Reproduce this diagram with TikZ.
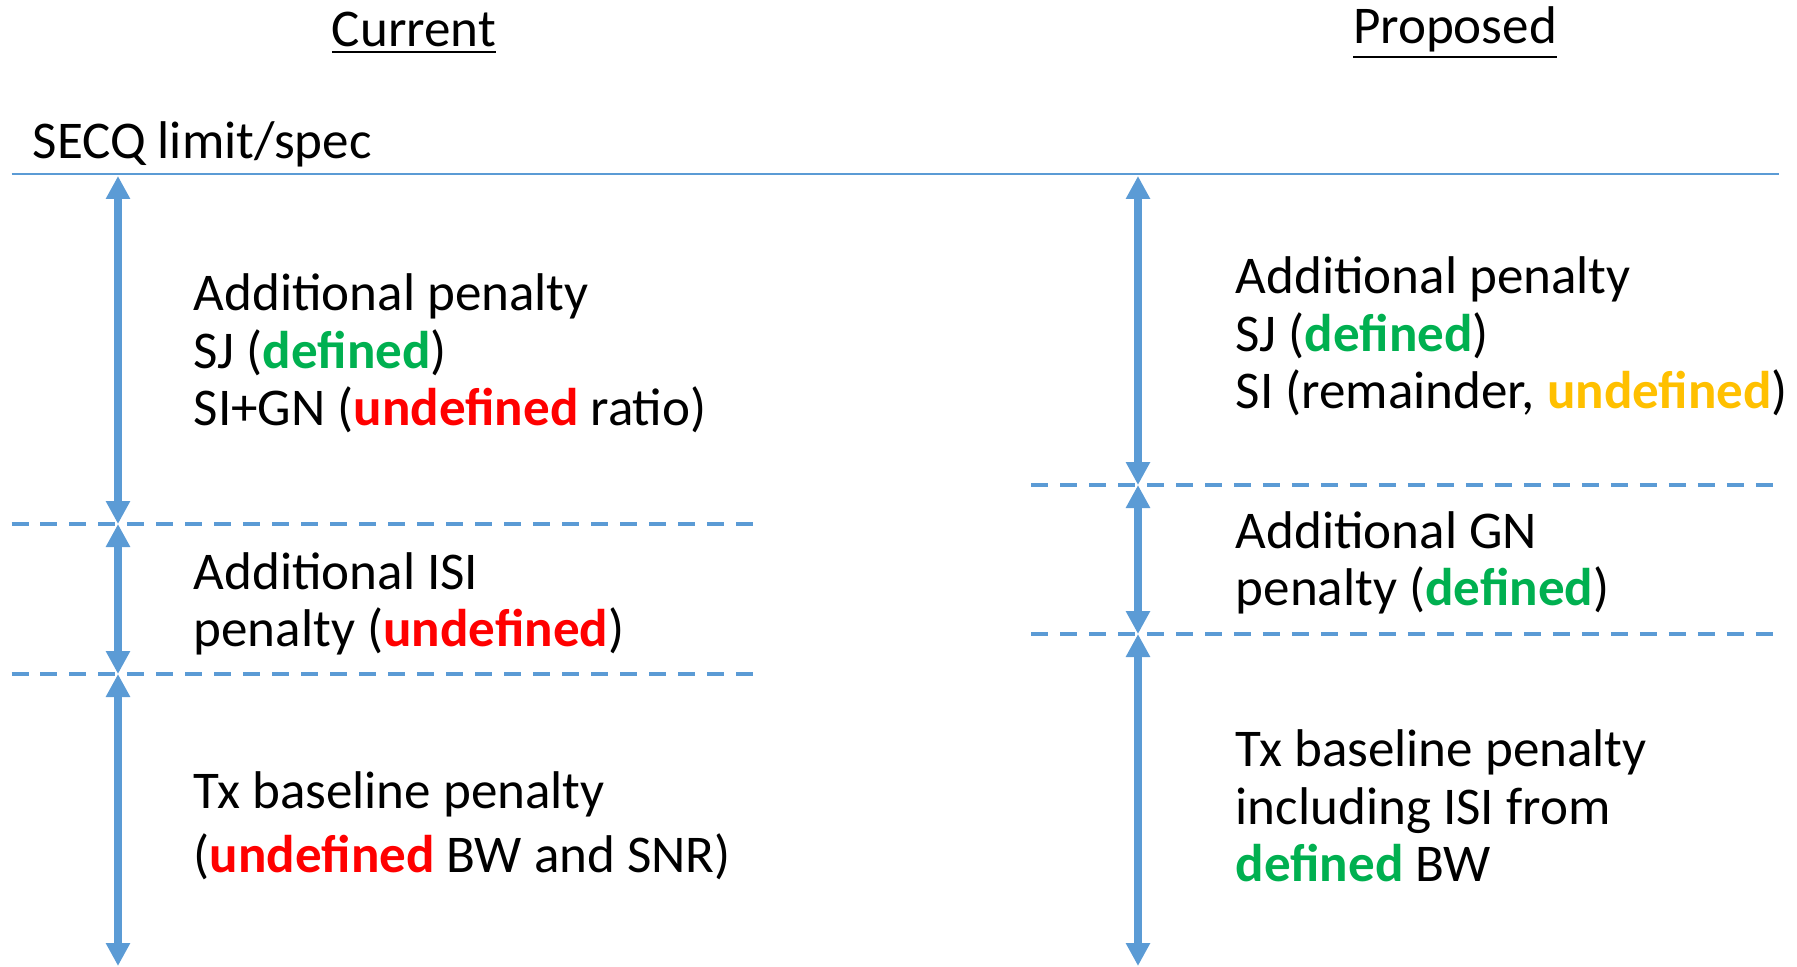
\documentclass[tikz,border=0pt]{standalone}
\usepackage{fontspec}
\setmainfont{Carlito}
\usetikzlibrary{arrows.meta}
\definecolor{lineblue}{HTML}{5B9BD5}
\definecolor{okgreen}{HTML}{00B050}
\definecolor{badred}{HTML}{FF0000}
\definecolor{warnorange}{HTML}{FFC000}
\newcommand{\good}[1]{\textbf{\textcolor{okgreen}{#1}}}
\newcommand{\bad}[1]{\textbf{\textcolor{badred}{#1}}}
\newcommand{\open}[1]{\textbf{\textcolor{warnorange}{#1}}}
\begin{document}
\begin{tikzpicture}[font=\fontsize{15.1}{16.3}\selectfont,
	penalty/.style={anchor=west,align=left,inner sep=0pt},
	span/.style={line width=2pt,lineblue,{Triangle[width=0.23cm,length=0.23cm]}-{Triangle[width=0.23cm,length=0.23cm]}},
	limit/.style={line width=0.7pt,lineblue},
	split/.style={line width=1.4pt,lineblue,dash pattern=on 0.17cm off 0.12cm}]
	\useasboundingbox (0,0) rectangle (17.97,-9.67) ;
	% titles
	\node (Current) at (4.14,-0.33) {\underline{Current}} ;
	\node (Proposed) at (14.55,-0.33) {\underline{Proposed}} ;
	\node[anchor=west,inner sep=0pt] (SECQ) at (0.32,-1.44) {SECQ limit/spec} ;
	% levels
	\coordinate (TopW) at (0.115,-1.74) ;
	\coordinate (TopE) at (17.79,-1.74) ;
	\coordinate (CurAW) at (0.115,-5.24) ;
	\coordinate (CurAE) at (7.56,-5.24) ;
	\coordinate (CurBW) at (0.115,-6.74) ;
	\coordinate (CurBE) at (7.56,-6.74) ;
	\coordinate (ProAW) at (10.31,-4.85) ;
	\coordinate (ProAE) at (17.79,-4.85) ;
	\coordinate (ProBW) at (10.31,-6.34) ;
	\coordinate (ProBE) at (17.79,-6.34) ;
	\draw[limit] (TopW) -- (TopE) ;
	\draw[split] (CurAW) -- (CurAE) ;
	\draw[split] (CurBW) -- (CurBE) ;
	\draw[split] (ProAW) -- (ProAE) ;
	\draw[split] (ProBW) -- (ProBE) ;
	% arrows, current
	\coordinate (C0) at (1.18,-1.76) ;
	\coordinate (C1) at (1.18,-5.24) ;
	\coordinate (C2) at (1.18,-6.74) ;
	\coordinate (C3) at (1.18,-9.66) ;
	\draw[span] (C0) -- (C1) ;
	\draw[span] (C1) -- (C2) ;
	\draw[span] (C2) -- (C3) ;
	% arrows, proposed
	\coordinate (P0) at (11.38,-1.76) ;
	\coordinate (P1) at (11.38,-4.85) ;
	\coordinate (P2) at (11.38,-6.34) ;
	\coordinate (P3) at (11.38,-9.66) ;
	\draw[span] (P0) -- (P1) ;
	\draw[span] (P1) -- (P2) ;
	\draw[span] (P2) -- (P3) ;
	% texts
	\node[penalty] (CurAdd) at (1.93,-3.535) {Additional penalty\\SJ (\good{defined})\\SI+GN (\bad{undefined} ratio)} ;
	\node[penalty] (CurISI) at (1.93,-6.035) {Additional ISI\\penalty (\bad{undefined})} ;
	\node[penalty] (CurTx) at (1.93,-8.255) {Tx baseline penalty\\[0.07cm](\bad{undefined} BW and SNR)} ;
	\node[penalty] (ProAdd) at (12.35,-3.365) {Additional penalty\\SJ (\good{defined})\\SI (remainder, \open{undefined})} ;
	\node[penalty] (ProGN) at (12.35,-5.625) {Additional GN\\penalty (\good{defined})} ;
	\node[penalty] (ProTx) at (12.35,-8.06) {Tx baseline penalty\\including ISI from\\\good{defined} BW} ;
\end{tikzpicture}
\end{document}
